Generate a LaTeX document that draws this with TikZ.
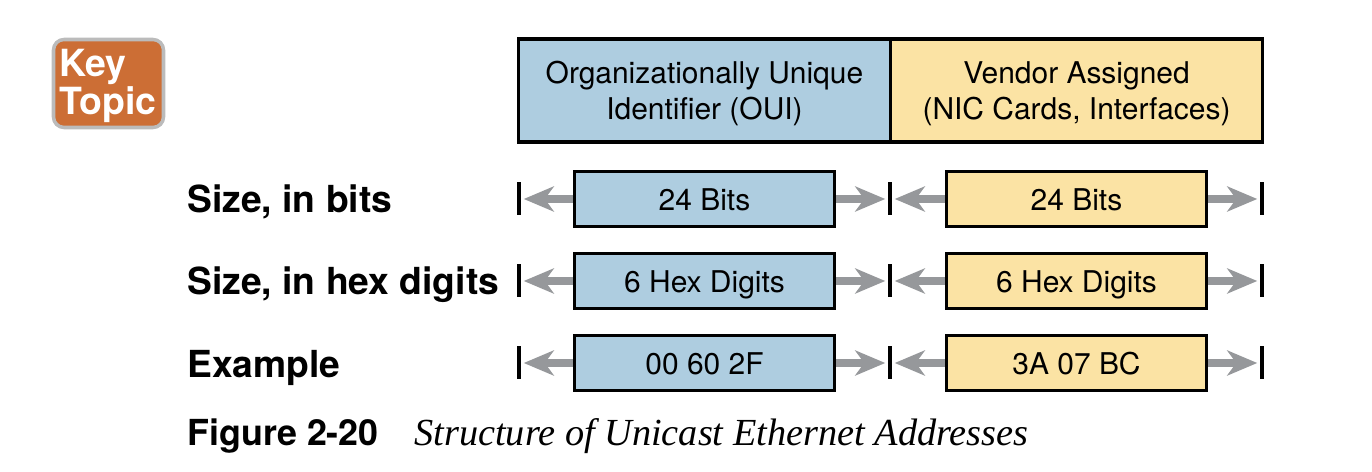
\documentclass[tikz,border=0pt]{standalone}
\usepackage{fontspec}
\setmainfont{Liberation Serif}
\setsansfont{TeX Gyre Heros}
\usetikzlibrary{arrows.meta,positioning}
\definecolor{ouiblue}{RGB}{174,205,224}
\definecolor{vendoryellow}{RGB}{251,227,164}
\definecolor{keyorange}{RGB}{204,110,53}
\definecolor{keyrim}{RGB}{187,187,187}
\definecolor{arrowgray}{RGB}{150,152,155}
\tikzset{
    headbox/.style={draw=black, line width=2pt, minimum width=372*0.02cm, minimum height=103*0.02cm, inner sep=0pt, align=center, text depth=0pt, font=\sffamily\fontsize{17.05}{20.4}\selectfont},
    sizebox/.style={draw=black, line width=2pt, minimum width=260*0.02cm, minimum height=55*0.02cm, inner sep=0pt, text height=13.6pt, text depth=0pt, font=\sffamily\fontsize{17.05}{20.4}\selectfont},
    endtick/.style={fill=black, inner sep=0pt, minimum width=2pt, minimum height=33*0.02cm},
    sizearrow/.style={-{Stealth[length=30*0.02cm, width=25*0.02cm, inset=9*0.02cm]}, arrowgray, line width=4.5pt, shorten >=1.5pt},
    rowlabel/.style={anchor=base west, inner sep=0pt, font=\sffamily\bfseries\fontsize{21.2}{24}\selectfont}
}
\begin{document}
\begin{tikzpicture}[x=0.02cm, y=-0.02cm]
    \useasboundingbox (0,0) rectangle (1372,472);

    % Key Topic badge
    \node[draw=keyrim, line width=2pt, fill=keyorange, rounded corners=6pt, minimum width=110*0.02cm, minimum height=88*0.02cm, inner sep=0pt] (badge) at (108.5,83.5) {};
    \node[anchor=west, inner sep=0pt, align=left, text=white, text depth=0pt, font=\sffamily\bfseries\fontsize{21.3}{18.6}\selectfont] (keytopic) at (59,82) {Key\\Topic};

    % Header boxes
    \node[headbox, fill=ouiblue] (oui) at (704.5,90.5) {Organizationally Unique\\Identifier (OUI)};
    \node[headbox, fill=vendoryellow] (vendor) at (1076.5,90.5) {Vendor Assigned\\(NIC Cards, Interfaces)};

    % Size, in bits
    \node[rowlabel] (bitslabel) at (187,213) {Size, in bits};
    \node[endtick] (bitsA) at (519,199) {};
    \node[endtick] (bitsB) at (890,199) {};
    \node[endtick] (bitsC) at (1262,199) {};
    \node[sizebox, fill=ouiblue] (bitsoui) at (704.5,199) {24 Bits};
    \node[sizebox, fill=vendoryellow] (bitsvendor) at (1076.5,199) {24 Bits};
    \draw[sizearrow] (bitsoui.west) -- (bitsA.east);
    \draw[sizearrow] (bitsoui.east) -- (bitsB.west);
    \draw[sizearrow] (bitsvendor.west) -- (bitsB.east);
    \draw[sizearrow] (bitsvendor.east) -- (bitsC.west);

    % Size, in hex digits
    \node[rowlabel] (hexlabel) at (187,295) {Size, in hex digits};
    \node[endtick] (hexA) at (519,281) {};
    \node[endtick] (hexB) at (890,281) {};
    \node[endtick] (hexC) at (1262,281) {};
    \node[sizebox, fill=ouiblue] (hexoui) at (704.5,281) {6 Hex Digits};
    \node[sizebox, fill=vendoryellow] (hexvendor) at (1076.5,281) {6 Hex Digits};
    \draw[sizearrow] (hexoui.west) -- (hexA.east);
    \draw[sizearrow] (hexoui.east) -- (hexB.west);
    \draw[sizearrow] (hexvendor.west) -- (hexB.east);
    \draw[sizearrow] (hexvendor.east) -- (hexC.west);

    % Example
    \node[rowlabel] (examplelabel) at (187,377.5) {Example};
    \node[endtick] (exA) at (519,363) {};
    \node[endtick] (exB) at (890,363) {};
    \node[endtick] (exC) at (1262,363) {};
    \node[sizebox, fill=ouiblue] (exoui) at (704.5,363) {00 60 2F};
    \node[sizebox, fill=vendoryellow] (exvendor) at (1076.5,363) {3A 07 BC};
    \draw[sizearrow] (exoui.west) -- (exA.east);
    \draw[sizearrow] (exoui.east) -- (exB.west);
    \draw[sizearrow] (exvendor.west) -- (exB.east);
    \draw[sizearrow] (exvendor.east) -- (exC.west);

    % Caption
    \node[anchor=base west, inner sep=0pt, font=\sffamily\bfseries\fontsize{20.4}{22}\selectfont] (figno) at (187,446) {Figure 2-20};
    \node[anchor=base west, inner sep=0pt, font=\itshape\fontsize{21.8}{24}\selectfont] (figtitle) at (414,446) {Structure of Unicast Ethernet Addresses};
\end{tikzpicture}
\end{document}
